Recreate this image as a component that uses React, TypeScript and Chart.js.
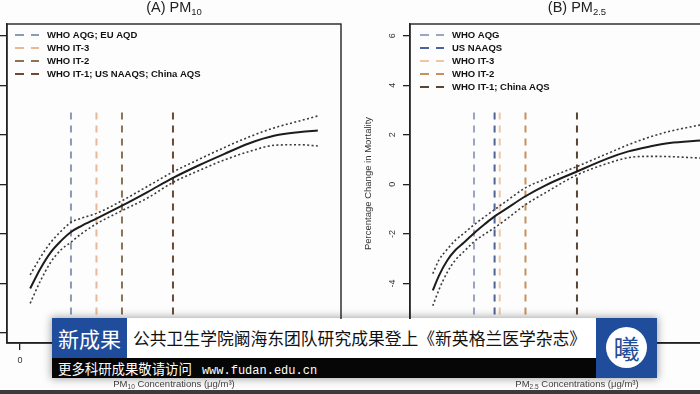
import React, { useEffect, useRef } from "react";
import { Chart, registerables } from "chart.js";

Chart.register(...registerables);

// ---------- DATA ----------
// Panel A: PM10
const pm10Conc = [10, 20, 30, 40, 50, 60, 75, 100, 125, 150, 175, 200, 225, 250, 275, 292];
const pm10Estimate = [-4.2, -3.4, -2.75, -2.29, -1.92, -1.68, -1.38, -0.86, -0.31, 0.26, 0.76, 1.22, 1.66, 1.97, 2.11, 2.17];
const pm10Upper = [-3.65, -2.95, -2.35, -1.9, -1.53, -1.37, -1.17, -0.66, -0.08, 0.5, 1.0, 1.48, 1.92, 2.29, 2.57, 2.76];
const pm10Lower = [-4.8, -3.9, -3.15, -2.65, -2.33, -2.0, -1.59, -1.06, -0.55, 0.08, 0.55, 0.98, 1.33, 1.58, 1.6, 1.55];
const pm10Standards = [50, 75, 100, 150];
const pm10StandardLabels = ["WHO AQG; EU AQD", "WHO IT-3", "WHO IT-2", "WHO IT-1; US NAAQS; China AQS"];

// Panel B: PM2.5
const pm25Conc = [5, 8, 12, 16, 20, 25, 30, 35, 40, 50, 60, 75, 90, 100, 110, 120, 135];
const pm25Estimate = [-4.28, -3.68, -3.07, -2.65, -2.36, -1.97, -1.62, -1.29, -1.02, -0.48, -0.03, 0.52, 1.05, 1.33, 1.52, 1.67, 1.77];
const pm25Upper = [-3.6, -3.05, -2.62, -2.25, -1.98, -1.63, -1.32, -1.02, -0.72, -0.14, 0.23, 0.72, 1.25, 1.6, 1.9, 2.14, 2.4];
const pm25Lower = [-4.9, -4.25, -3.55, -3.05, -2.72, -2.31, -2.02, -1.75, -1.45, -0.82, -0.32, 0.38, 0.85, 1.08, 1.13, 1.12, 1.06];
const pm25Standards = [25, 35, 37.5, 50, 75];
const pm25StandardLabels = ["WHO AQG", "US NAAQS", "WHO IT-3", "WHO IT-2", "WHO IT-1; China AQS"];

const yAxisTitle = "Percentage Change in Mortality";
const standardLineTop = 2.9;

// ---------- STYLE ----------
const pm10Colors = ["#8c9ab8", "#e6b998", "#8b7358", "#6b4b33"];
const pm25Colors = ["#9aa6c0", "#4f6496", "#ecc9a6", "#c6915e", "#5a4630"];
const FONT = '"Liberation Sans", Arial, sans-serif';

function drawSubText(ctx: any, parts: any[], cx: number, baseY: number, color: string) {
  // parts: [text, size, weight, dy]
  let total = 0;
  parts.forEach((p) => {
    ctx.font = `${p[2]} ${p[1]}px ${FONT}`;
    total += ctx.measureText(p[0]).width;
  });
  let x = cx - total / 2;
  ctx.fillStyle = color;
  ctx.textAlign = "left";
  ctx.textBaseline = "alphabetic";
  parts.forEach((p) => {
    ctx.font = `${p[2]} ${p[1]}px ${FONT}`;
    ctx.fillText(p[0], x, baseY + p[3]);
    x += ctx.measureText(p[0]).width;
  });
}

function makeChart(canvas: HTMLCanvasElement, p: any) {
  const pts = (xs: number[], ys: number[]) => xs.map((x, i) => ({ x, y: ys[i] }));
  const yMin = -6.4;
  const yMax = 6.47;
  const datasets: any[] = [
    { data: pts(p.conc, p.est), borderColor: "#1c1c1c", borderWidth: 2, pointRadius: 0, cubicInterpolationMode: "monotone" },
    { data: pts(p.conc, p.upper), borderColor: "#3a3a3a", borderWidth: 1.6, borderDash: [2, 2.4], pointRadius: 0, cubicInterpolationMode: "monotone" },
    { data: pts(p.conc, p.lower), borderColor: "#3a3a3a", borderWidth: 1.6, borderDash: [2, 2.4], pointRadius: 0, cubicInterpolationMode: "monotone" },
  ];
  p.standards.forEach((v: number, i: number) => {
    datasets.push({
      label: p.labels[i],
      isRef: true,
      data: [{ x: v, y: standardLineTop }, { x: v, y: yMin }],
      borderColor: p.colors[i],
      borderWidth: 2,
      borderDash: [7, 6],
      pointRadius: 0,
    });
  });

  const decor = {
    id: "rdecor",
    afterDraw(chart: any) {
      const { ctx, chartArea: a, scales } = chart;
      ctx.save();
      // frame
      ctx.strokeStyle = "#222";
      ctx.lineWidth = 1.4;
      ctx.setLineDash([]);
      ctx.strokeRect(a.left, a.top, a.right - a.left, a.bottom - a.top);
      // rotated y tick labels
      ctx.fillStyle = "#333";
      ctx.font = `9px ${FONT}`;
      ctx.textAlign = "center";
      ctx.textBaseline = "middle";
      scales.y.ticks.forEach((t: any) => {
        const py = scales.y.getPixelForValue(t.value);
        ctx.save();
        ctx.translate(a.left - 17, py);
        ctx.rotate(-Math.PI / 2);
        ctx.fillText(String(t.value), 0, 0);
        ctx.restore();
      });
      // y title
      ctx.save();
      ctx.font = `9.5px ${FONT}`;
      ctx.fillStyle = "#333";
      ctx.translate(a.left - 42, (a.top + a.bottom) / 2);
      ctx.rotate(-Math.PI / 2);
      ctx.fillText(yAxisTitle, 0, 0);
      ctx.restore();
      const cx = (a.left + a.right) / 2;
      // main title
      drawSubText(ctx, [[p.titleMain, 14.5, "normal", 0], [p.titleSub, 9.5, "normal", 3]], cx, 12, "#222");
      // x title
      drawSubText(ctx, [["PM", 9.5, "normal", 0], [p.titleSub, 6.5, "normal", 2], [" Concentrations (\u03bcg/m\u00b3)", 9.5, "normal", 0]], cx, 387, "#444");
      // legend
      const refs = chart.data.datasets.filter((d: any) => d.isRef);
      refs.forEach((d: any, i: number) => {
        const y = a.top + 11 + i * 13;
        ctx.strokeStyle = d.borderColor;
        ctx.lineWidth = 2;
        ctx.beginPath();
        ctx.moveTo(a.left + p.legDash, y);
        ctx.lineTo(a.left + p.legDash + 9, y);
        ctx.moveTo(a.left + p.legDash + 16, y);
        ctx.lineTo(a.left + p.legDash + 24, y);
        ctx.stroke();
        ctx.fillStyle = "#111";
        ctx.font = `bold 9.5px ${FONT}`;
        ctx.textAlign = "left";
        ctx.textBaseline = "middle";
        ctx.fillText(d.label, a.left + p.legText, y + 0.5);
      });
      ctx.restore();
    },
  };

  return new Chart(canvas, {
    type: "line",
    data: { datasets },
    plugins: [decor],
    options: {
      animation: false,
      responsive: false,
      devicePixelRatio: 1,
      layout: { padding: { top: 24, right: 16, left: 0, bottom: 0 } },
      plugins: { legend: { display: false }, tooltip: { enabled: false }, title: { display: false } },
      scales: {
        x: {
          type: "linear",
          min: p.xMin,
          max: p.xMax,
          afterFit: (s: any) => { s.height = 51; },
          ticks: { stepSize: 50, includeBounds: false, color: "#333", font: { size: 9, family: FONT }, padding: 5, maxRotation: 0 },
          grid: { drawOnChartArea: false, drawTicks: true, tickLength: 7, color: "#222", lineWidth: 1.3 },
          border: { display: true, color: "#222", width: 1.4 },
        },
        y: {
          type: "linear",
          min: yMin,
          max: yMax,
          afterFit: (s: any) => { s.width = 50; },
          ticks: { stepSize: 2, includeBounds: false, display: false },
          grid: { drawOnChartArea: false, drawTicks: true, tickLength: 7, color: "#222", lineWidth: 1.3 },
          border: { display: true, color: "#222", width: 1.4 },
        },
      },
    },
  } as any);
}

export default function App() {
  const refA = useRef<HTMLCanvasElement>(null);
  const refB = useRef<HTMLCanvasElement>(null);

  useEffect(() => {
    const a = makeChart(refA.current as HTMLCanvasElement, {
      conc: pm10Conc, est: pm10Estimate, upper: pm10Upper, lower: pm10Lower,
      standards: pm10Standards, labels: pm10StandardLabels, colors: pm10Colors,
      titleMain: "(A) PM", titleSub: "10", xMin: -12.7, xMax: 314.7, legDash: 8, legText: 40,
    });
    const b = makeChart(refB.current as HTMLCanvasElement, {
      conc: pm25Conc, est: pm25Estimate, upper: pm25Upper, lower: pm25Lower,
      standards: pm25Standards, labels: pm25StandardLabels, colors: pm25Colors,
      titleMain: "(B) PM", titleSub: "2.5", xMin: -6.07, xMax: 156.1, legDash: 10, legText: 42,
    });
    return () => { a.destroy(); b.destroy(); };
  }, []);

  const blue = "#1f4d9c";
  const cjk = '"Noto Sans CJK SC", sans-serif';

  return (
    <div style={{ position: "fixed", left: 0, top: 0, width: 700, height: 394, overflow: "hidden", background: "#fdfdfd" }}>
      <canvas ref={refA} width={400} height={394} style={{ position: "absolute", left: -43, top: 0, width: 400, height: 394 }} />
      <canvas ref={refB} width={400} height={394} style={{ position: "absolute", left: 360, top: 0, width: 400, height: 394 }} />

      {/* banner */}
      <div style={{ position: "absolute", left: 52, top: 318, width: 605, height: 60, boxShadow: "0 0 8px 1px rgba(0,0,0,0.35)" }} />
      <div style={{ position: "absolute", left: 52, top: 318, width: 75, height: 40, background: blue, color: "#fff", fontFamily: cjk, fontSize: 21, lineHeight: "40px", textAlign: "center", whiteSpace: "nowrap" }}>新成果</div>
      <div style={{ position: "absolute", left: 127, top: 319, width: 469, height: 39, background: "#fff" }} />
      <div style={{ position: "absolute", left: 133, top: 319, height: 39, lineHeight: "39px", color: "#111", fontFamily: cjk, fontSize: 16.8, whiteSpace: "nowrap" }}>公共卫生学院阚海东团队研究成果登上《新英格兰医学杂志》</div>
      <div style={{ position: "absolute", left: 52, top: 358, width: 544, height: 20, background: "#060606" }} />
      <div style={{ position: "absolute", left: 58, top: 358, height: 20, lineHeight: "20px", color: "#fff", fontFamily: cjk, fontSize: 13.4, whiteSpace: "nowrap" }}>
        更多科研成果敬请访问<span style={{ fontFamily: '"Liberation Mono", monospace', fontSize: 12, marginLeft: 10 }}>www.fudan.edu.cn</span>
      </div>
      <div style={{ position: "absolute", left: 596, top: 318, width: 61, height: 60, background: blue }} />
      <div style={{ position: "absolute", left: 606, top: 327, width: 41, height: 41, borderRadius: "50%", background: "#fff", color: blue, fontFamily: cjk, fontSize: 26, lineHeight: "41px", textAlign: "center" }}>曦</div>

      {/* bottom video strip */}
      <div style={{ position: "absolute", left: 0, top: 390, width: 700, height: 4, background: "#3b3b3b" }} />
    </div>
  );
}
